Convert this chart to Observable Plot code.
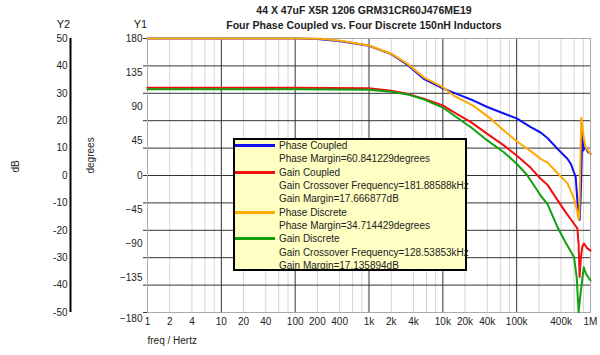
<!DOCTYPE html>
<html><head><meta charset="utf-8">
<script src="https://cdn.jsdelivr.net/npm/d3@7"></script>
<script src="https://cdn.jsdelivr.net/npm/@observablehq/plot@0.6"></script>
<style>
body{margin:0;background:#fff;}
#wrap{position:relative;width:600px;height:355px;font-family:"Liberation Sans",Arial,sans-serif;color:#222;}
#legend{position:absolute;left:233px;top:138px;width:230px;height:129px;background:#ffffc4;border:2px solid #000;font-size:10px;color:#222;}
.row{position:absolute;left:44px;height:13px;line-height:13px;white-space:nowrap;}
.sw{position:absolute;left:0px;width:40px;height:3px;}
</style></head><body><div id="wrap"></div>
<script>
const titleLines = ["44 X 47uF X5R 1206 GRM31CR60J476ME19", "Four Phase Coupled vs. Four Discrete 150nH Inductors"];

const freqPC = [1, 10, 100, 200, 412, 1000, 2000, 3300, 5500, 10000, 15700, 26000, 40000, 67000, 100000, 155000, 211000, 263000, 358000, 486000, 540000, 630000, 664000, 690000, 712000, 736000, 778000, 800000, 850000, 920000, 1000000];
const phaseCoupled = [180, 180, 180, 179.5, 176.5, 170.5, 159.5, 145.5, 127, 114.5, 107, 98.5, 90, 81.5, 75, 63.5, 56.5, 49, 35, 22, 15.5, -2, -33, -50, -58, -28, 57, 33, 38, 31, 28.5];

const freqGC = [1, 10, 100, 1000, 2000, 3300, 5500, 10000, 14000, 24000, 40000, 67000, 100000, 155000, 211000, 263000, 358000, 450000, 598000, 664000, 690000, 712000, 740000, 775000, 815000, 900000, 1000000];
const gainCoupled = [32, 32, 32, 31.8, 30.9, 29.8, 28, 25.6, 23.1, 19.5, 15.2, 11, 7.3, 2.8, -1.2, -3.5, -9, -13, -17.6, -19.3, -25, -37, -30, -26, -24.8, -26.5, -27.4];

const freqPD = [1, 10, 100, 220, 412, 1000, 2000, 3300, 5500, 10000, 14000, 26000, 44000, 67000, 100000, 155000, 211000, 263000, 358000, 486000, 598000, 664000, 690000, 705000, 750000, 810000, 850000, 1000000];
const phaseDiscrete = [180, 180, 180, 179.6, 177, 170.8, 160, 147, 129, 116, 105, 91.5, 75, 59, 45, 32, 22, 17, 3, -10, -30, -48, -58, -52, 76, 50, 38, 28.5];

const freqGD = [1, 10, 100, 1000, 2000, 3300, 5500, 10000, 14000, 24000, 40000, 67000, 100000, 140000, 211000, 263000, 358000, 450000, 598000, 650000, 690000, 720000, 750000, 810000, 870000, 1000000];
const gainDiscrete = [31.5, 31.5, 31.5, 31.3, 30.6, 29.6, 27.8, 24.8, 22, 17.6, 12.8, 8.5, 4.3, 0, -7.3, -10.5, -18.9, -24, -29.8, -37.1, -49.9, -45, -40.8, -33.5, -35.9, -38.3];

const dbTicks = [50, 40, 30, 20, 10, 0, -10, -20, -30, -40, -50];
const degTicks = [180, 135, 90, 45, 0, -45, -90, -135, -180];
const xTickVals = [1, 2, 4, 10, 20, 40, 100, 200, 400, 1e3, 2e3, 4e3, 1e4, 2e4, 4e4, 1e5, 4e5, 1e6];
const xTickLabels = ["1", "2", "4", "10", "20", "40", "100", "200", "400", "1k", "2k", "4k", "10k", "20k", "40k", "100k", "400k", "1M"];
const decades = [1, 10, 100, 1e3, 1e4, 1e5];
const minorSteps = [2, 4, 6, 8];

const legendRows = [
  {text: "Phase Coupled", color: "#1010f0"},
  {text: "Phase Margin=60.841229degrees", color: null},
  {text: "Gain Coupled", color: "#f01010"},
  {text: "Gain Crossover Frequency=181.88588kHz", color: null},
  {text: "Gain Margin=17.666877dB", color: null},
  {text: "Phase Discrete", color: "#ffaa00"},
  {text: "Phase Margin=34.714429degrees", color: null},
  {text: "Gain Discrete", color: "#10a010"},
  {text: "Gain Crossover Frequency=128.53853kHz", color: null},
  {text: "Gain Margin=17.135894dB", color: null}
];

const DEG_PER_DB = 3.6;
const toRows = (fs, vs) => fs.map((f, i) => ({f, v: vs[i]}));
const pc = toRows(freqPC, phaseCoupled);
const gc = toRows(freqGC, gainCoupled);
const pd = toRows(freqPD, phaseDiscrete);
const gd = toRows(freqGD, gainDiscrete);

const minorGrid = decades.flatMap(d => minorSteps.map(m => d * m));
const majorGrid = decades.slice(1);
const dbDeg = dbTicks.map(d => d * DEG_PER_DB);
const xTicks = xTickVals.map((v, i) => ({v, label: xTickLabels[i]}));
const font = "'Liberation Sans', Arial, sans-serif";

const chart = Plot.plot({
  width: 600, height: 355,
  marginLeft: 147, marginRight: 10, marginTop: 38, marginBottom: 43,
  style: {fontFamily: font, fontSize: "10px", background: "white", color: "#222", overflow: "visible"},
  x: {type: "log", domain: [1, 1e6], axis: null},
  y: {domain: [-180, 180], axis: null},
  marks: [
    Plot.ruleX(minorGrid, {stroke: "#d4d4d4"}),
    Plot.ruleX(majorGrid, {stroke: "#333"}),
    Plot.ruleY(dbDeg.slice(1, -1), {stroke: "#333"}),
    Plot.frame({stroke: "#aaa"}),
    Plot.axisY(dbDeg, {tickSize: 4, tickFormat: () => "", stroke: "#333", label: null}),
    Plot.axisY(degTicks.slice(0, -1), {tickSize: 0, tickPadding: 5, label: null}),
    Plot.axisY(degTicks.slice(-1), {tickSize: 0, tickPadding: 5, dy: 6, label: null}),
    Plot.axisY(dbDeg, {tickSize: 0, tickPadding: 3, dx: -77, tickFormat: d => String(Math.round(d / DEG_PER_DB)), label: null}),
    Plot.ruleX([1], {y1: -180, y2: 180, dx: -77, stroke: "#000", strokeWidth: 2}),
    Plot.text(xTicks, {x: "v", text: "label", frameAnchor: "bottom", lineAnchor: "top", dy: 5}),
    Plot.line(pc, {x: "f", y: "v", stroke: "#1010f0", strokeWidth: 2}),
    Plot.line(gc, {x: "f", y: d => d.v * DEG_PER_DB, stroke: "#f01010", strokeWidth: 2}),
    Plot.line(pd, {x: "f", y: "v", stroke: "#ffaa00", strokeWidth: 2}),
    Plot.line(gd, {x: "f", y: d => d.v * DEG_PER_DB, stroke: "#10a010", strokeWidth: 2}),
    Plot.text([titleLines[0]], {frameAnchor: "top", dx: -5, dy: -32, fontWeight: "bold", fontSize: 10.5}),
    Plot.text([titleLines[1]], {frameAnchor: "top", dx: -5, dy: -17, fontWeight: "bold", fontSize: 10.5}),
    Plot.text(["Y1"], {frameAnchor: "top-left", dx: -7, dy: -18, fontSize: 11, textAnchor: "middle"}),
    Plot.text(["Y2"], {frameAnchor: "top-left", dx: -84, dy: -18, fontSize: 11, textAnchor: "middle"}),
    Plot.text(["dB"], {frameAnchor: "left", dx: -132, dy: -3, rotate: -90, fontSize: 10}),
    Plot.text(["degrees"], {frameAnchor: "left", dx: -57, dy: -2, rotate: -90, fontSize: 10}),
    Plot.text(["freq / Hertz"], {frameAnchor: "bottom-left", dy: 31, textAnchor: "start", fontSize: 10})
  ]
});

const wrap = document.getElementById("wrap");
wrap.appendChild(chart);
const lg = document.createElement("div");
lg.id = "legend";
const centers = [5, 18.5, 32, 45, 58.5, 72, 85, 98, 112, 125];
legendRows.forEach((r, i) => {
  if (r.color) {
    const sw = document.createElement("div");
    sw.className = "sw";
    sw.style.top = (centers[i] - 1.5) + "px";
    sw.style.background = r.color;
    lg.appendChild(sw);
  }
  const t = document.createElement("div");
  t.className = "row";
  t.style.top = (centers[i] - 6.5) + "px";
  t.textContent = r.text;
  lg.appendChild(t);
});
wrap.appendChild(lg);
</script></body></html>
